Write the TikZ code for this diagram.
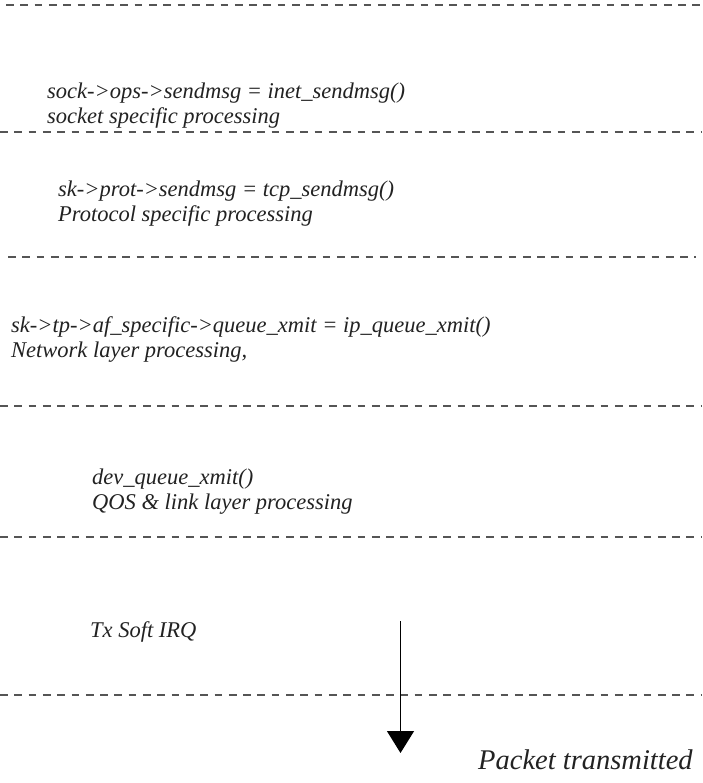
\documentclass[tikz,border=0pt]{standalone}
\usepackage{fontspec}
\setmainfont{Liberation Serif}
\usetikzlibrary{arrows.meta}
\definecolor{dashgray}{HTML}{555555}
\definecolor{txt}{HTML}{222222}
\begin{document}
\begin{tikzpicture}[x=1pt,y=-1pt,
  sep/.style={draw=dashgray,line width=1.3pt,dash pattern=on 7.7pt off 6.6pt},
  lbl/.style={anchor=base west,inner sep=0pt,text=txt,font=\fontsize{22.5}{25}\selectfont\itshape},
  big/.style={anchor=base west,inner sep=0pt,text=txt,font=\fontsize{28.5}{32}\selectfont\itshape}]
\useasboundingbox (0,0) rectangle (702,783);
% separators
\coordinate (s1a) at (6,5);   \coordinate (s1b) at (702,5);
\coordinate (s2a) at (0,132); \coordinate (s2b) at (702,132);
\coordinate (s3a) at (8,257); \coordinate (s3b) at (696,257);
\coordinate (s4a) at (0,406); \coordinate (s4b) at (702,406);
\coordinate (s5a) at (0,537); \coordinate (s5b) at (702,537);
\coordinate (s6a) at (0,695); \coordinate (s6b) at (702,695);
\draw[sep] (s1a) -- (s1b);
\draw[sep] (s2a) -- (s2b);
\draw[sep] (s3a) -- (s3b);
\draw[sep] (s4a) -- (s4b);
\draw[sep] (s5a) -- (s5b);
\draw[sep] (s6a) -- (s6b);
% texts
\node[lbl] (t1a) at (47,99) {sock->ops->sendmsg = inet\_sendmsg()};
\node[lbl] (t1b) at (47,124) {socket specific processing};
\node[lbl] (t2a) at (58,197) {sk->prot->sendmsg = tcp\_sendmsg()};
\node[lbl] (t2b) at (58,222) {Protocol specific processing};
\node[lbl] (t3a) at (11,332) {sk->tp->af\_specific->queue\_xmit = ip\_queue\_xmit()};
\node[lbl] (t3b) at (11,357) {Network layer processing,};
\node[lbl] (t4a) at (92,484) {dev\_queue\_xmit()};
\node[lbl] (t4b) at (92,509) {QOS \& link layer processing};
\node[lbl] (t5) at (90,637) {Tx Soft IRQ};
\node[big] (pk) at (478,769) {Packet transmitted};
% arrow
\coordinate (aS) at (400.5,621);
\coordinate (aE) at (400.5,753);
\draw[line width=1.3pt,-{Triangle[length=22pt,width=27pt]}] (aS) -- (aE);
\end{tikzpicture}
\end{document}
